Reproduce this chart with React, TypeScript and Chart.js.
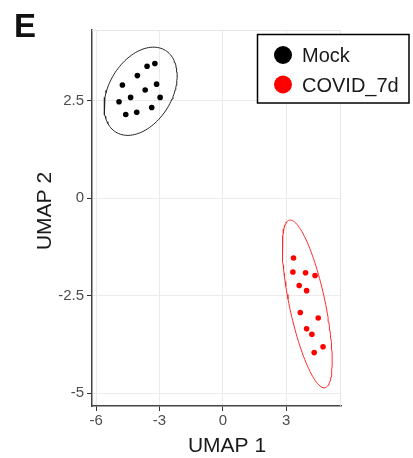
import React, { useEffect, useRef } from "react";
import { Chart, registerables } from "chart.js";
Chart.register(...registerables);

// ---- data ----
const seriesLabels = ["Mock", "COVID_7d"];
const seriesColors = ["#000000", "#ff0000"];

const mockX = [-3.22, -3.59, -4.05, -4.76, -3.14, -3.68, -4.37, -4.92, -2.97, -3.37, -4.08, -4.6];
const mockY = [3.46, 3.39, 3.15, 2.91, 2.93, 2.78, 2.59, 2.48, 2.59, 2.33, 2.21, 2.15];

const covidX = [3.35, 3.32, 3.92, 4.37, 3.62, 3.97, 3.67, 4.52, 3.97, 4.22, 4.75, 4.33];
const covidY = [-1.53, -1.89, -1.91, -1.98, -2.24, -2.37, -2.93, -3.07, -3.35, -3.49, -3.81, -3.96];

const xTicks = [-6, -3, 0, 3];
const yTicks = [-5, -2.5, 0, 2.5];
const xLimits = [-6.2, 5.6];
const yLimits = [-5.33, 4.32];

const panelLabel = "E";
const xTitle = "UMAP 1";
const yTitle = "UMAP 2";

// confidence-ellipse size (stat_ellipse-like)
const ELLIPSE_SCALE = 2.6;
const ELLIPSE_STEPS = 120;

function confidenceEllipse(xs: number[], ys: number[], scale: number, steps: number) {
  const n = xs.length;
  const mx = xs.reduce((a, b) => a + b, 0) / n;
  const my = ys.reduce((a, b) => a + b, 0) / n;
  let sxx = 0, syy = 0, sxy = 0;
  for (let i = 0; i < n; i++) {
    const dx = xs[i] - mx, dy = ys[i] - my;
    sxx += dx * dx; syy += dy * dy; sxy += dx * dy;
  }
  sxx /= n - 1; syy /= n - 1; sxy /= n - 1;
  const half = (sxx + syy) / 2;
  const d = Math.sqrt(((sxx - syy) / 2) ** 2 + sxy * sxy);
  const l1 = half + d, l2 = Math.max(half - d, 0);
  const th = 0.5 * Math.atan2(2 * sxy, sxx - syy);
  const a = scale * Math.sqrt(l1), b = scale * Math.sqrt(l2);
  const pts: { x: number; y: number }[] = [];
  for (let k = 0; k <= steps; k++) {
    const t = (k / steps) * Math.PI * 2;
    const c = Math.cos(t), s = Math.sin(t);
    pts.push({
      x: mx + a * c * Math.cos(th) - b * s * Math.sin(th),
      y: my + a * c * Math.sin(th) + b * s * Math.cos(th),
    });
  }
  return pts;
}

const FONT = '"Liberation Sans", Arial, Helvetica, sans-serif';

const decorPlugin = {
  id: "decor",
  beforeDatasetsDraw(chart: any) {
    const { ctx, chartArea: ca } = chart;
    ctx.save();
    ctx.strokeStyle = "#e6e6e6";
    ctx.lineWidth = 1;
    ctx.beginPath();
    ctx.moveTo(ca.left, ca.top + 0.5);
    ctx.lineTo(ca.right - 0.5, ca.top + 0.5);
    ctx.lineTo(ca.right - 0.5, ca.bottom);
    ctx.stroke();
    ctx.restore();
  },
  afterDraw(chart: any) {
    const { ctx } = chart;
    ctx.save();
    // panel label
    ctx.fillStyle = "#111";
    ctx.font = `bold 33px ${FONT}`;
    ctx.textAlign = "left";
    ctx.textBaseline = "alphabetic";
    ctx.fillText(panelLabel, 14, 37);

    // axis titles
    ctx.font = `21px ${FONT}`;
    ctx.fillStyle = "#1a1a1a";
    ctx.textAlign = "center";
    ctx.fillText(xTitle, 227, 452);
    ctx.save();
    ctx.translate(51, 211);
    ctx.rotate(-Math.PI / 2);
    ctx.fillText(yTitle, 0, 0);
    ctx.restore();

    // legend
    const bx = 257.5, by = 34.5, bw = 151.5, bh = 68.5;
    ctx.fillStyle = "#ffffff";
    ctx.fillRect(bx, by, bw, bh);
    ctx.strokeStyle = "#000";
    ctx.lineWidth = 1.5;
    ctx.strokeRect(bx, by, bw, bh);
    const ds = chart.data.datasets.slice(0, 2);
    const rowsY = [55, 84.5];
    ds.forEach((d: any, i: number) => {
      ctx.beginPath();
      ctx.fillStyle = d.backgroundColor;
      ctx.arc(283, rowsY[i], 9, 0, Math.PI * 2);
      ctx.fill();
      ctx.fillStyle = "#1a1a1a";
      ctx.font = `20px ${FONT}`;
      ctx.textAlign = "left";
      ctx.textBaseline = "alphabetic";
      ctx.fillText(d.label, 302, rowsY[i] + 7);
    });
    ctx.restore();
  },
};

export default function App() {
  const ref = useRef<HTMLCanvasElement | null>(null);

  useEffect(() => {
    if (!ref.current) return;
    const mockPts = mockX.map((x, i) => ({ x, y: mockY[i] }));
    const covidPts = covidX.map((x, i) => ({ x, y: covidY[i] }));
    const chart = new Chart(ref.current, {
      type: "scatter",
      data: {
        datasets: [
          {
            label: seriesLabels[0],
            data: mockPts,
            backgroundColor: seriesColors[0],
            borderColor: seriesColors[0],
            pointRadius: 2.8,
            borderWidth: 0,
          },
          {
            label: seriesLabels[1],
            data: covidPts,
            backgroundColor: seriesColors[1],
            borderColor: seriesColors[1],
            pointRadius: 2.8,
            borderWidth: 0,
          },
          {
            label: "mock-ellipse",
            data: confidenceEllipse(mockX, mockY, ELLIPSE_SCALE, ELLIPSE_STEPS),
            showLine: true,
            pointRadius: 0,
            borderColor: "#222222",
            backgroundColor: "transparent",
            borderWidth: 1,
            tension: 0,
          },
          {
            label: "covid-ellipse",
            data: confidenceEllipse(covidX, covidY, ELLIPSE_SCALE, ELLIPSE_STEPS),
            showLine: true,
            pointRadius: 0,
            borderColor: "#ff2a2a",
            backgroundColor: "transparent",
            borderWidth: 1,
            tension: 0,
          },
        ],
      },
      options: {
        animation: false,
        responsive: false,
        maintainAspectRatio: false,
        layout: { padding: { top: 30, right: 72, bottom: 0, left: 0 } },
        plugins: {
          legend: { display: false },
          tooltip: { enabled: false },
        },
        scales: {
          x: {
            type: "linear",
            min: xLimits[0],
            max: xLimits[1],
            afterBuildTicks: (s: any) => {
              s.ticks = xTicks.map((v) => ({ value: v }));
            },
            afterFit: (s: any) => {
              s.height = 52;
            },
            ticks: {
              color: "#4d4d4d",
              font: { family: FONT, size: 15 },
              padding: 1,
              callback: (v: any) => String(v),
            },
            grid: { color: "#ebebeb", lineWidth: 1, tickLength: 5, tickColor: "#333333" },
            border: { display: true, color: "#444444", width: 1.5 },
          },
          y: {
            type: "linear",
            min: yLimits[0],
            max: yLimits[1],
            afterBuildTicks: (s: any) => {
              s.ticks = yTicks.map((v) => ({ value: v }));
            },
            afterFit: (s: any) => {
              s.width = 92;
            },
            ticks: {
              color: "#4d4d4d",
              font: { family: FONT, size: 15 },
              padding: 3,
              callback: (v: any) => String(v),
            },
            grid: { color: "#ebebeb", lineWidth: 1, tickLength: 5, tickColor: "#333333" },
            border: { display: true, color: "#444444", width: 1.5 },
          },
        },
      },
      plugins: [decorPlugin],
    });
    return () => chart.destroy();
  }, []);

  return (
    <div style={{ position: "fixed", left: 0, top: 0, width: 413, height: 458, background: "#fff" }}>
      <canvas ref={ref} width={413} height={458} style={{ display: "block", width: 413, height: 458 }} />
    </div>
  );
}
